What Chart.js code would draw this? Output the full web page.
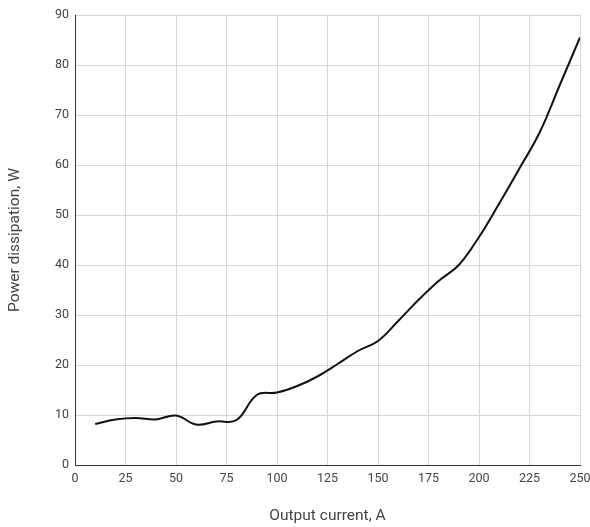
<!DOCTYPE html>
<html>
<head>
<meta charset="utf-8">
<script src="https://cdn.jsdelivr.net/npm/chart.js@4/dist/chart.umd.min.js"></script>
<style>
  html, body { margin: 0; padding: 0; background: #fff; }
  #wrap { width: 590px; height: 527px; }
</style>
</head>
<body>
<div id="wrap"><canvas id="powerChart"></canvas></div>
<script>
const currents = [10, 20, 30, 40, 50, 60, 70, 80, 90, 100, 110, 120, 130, 140, 150, 160, 170, 180, 190, 200, 210, 220, 230, 240, 250];
const power = [8.2, 9.1, 9.4, 9.1, 9.9, 8.1, 8.7, 9.0, 14.0, 14.5, 15.8, 17.7, 20.2, 22.8, 24.8, 28.8, 33.0, 36.8, 40.0, 45.6, 52.3, 59.3, 66.5, 76.0, 85.5];
const xTicks = [0, 25, 50, 75, 100, 125, 150, 175, 200, 225, 250];
const yTicks = [0, 10, 20, 30, 40, 50, 60, 70, 80, 90];

const fontFamily = 'Roboto, "Noto Sans", sans-serif';

document.addEventListener('DOMContentLoaded', () => {
    const ctx = document.getElementById('powerChart').getContext('2d');
    new Chart(ctx, {
        type: 'line',
        data: {
            datasets: [{
                data: currents.map((c, i) => ({ x: c, y: power[i] })),
                borderColor: '#111',
                borderWidth: 2,
                pointRadius: 0,
                tension: 0.4,
                fill: false
            }]
        },
        options: {
            responsive: true,
            maintainAspectRatio: false,
            animation: false,
            layout: { padding: { left: 0, right: 10, top: 15, bottom: 0 } },
            plugins: { legend: { display: false }, tooltip: { enabled: false } },
            scales: {
                x: {
                    type: 'linear',
                    min: 0, max: 250,
                    afterBuildTicks: s => { s.ticks = xTicks.map(v => ({ value: v })); },
                    afterFit: s => { s.height = 62; s.paddingRight = 0; s.paddingLeft = 0; },
                    grid: { color: '#d6d6d6', drawTicks: false },
                    border: { color: '#333', width: 1 },
                    ticks: { color: '#444', font: { family: fontFamily, size: 12.5 }, padding: 6, maxRotation: 0 },
                    title: { display: true, text: 'Output current, A', color: '#444', font: { family: fontFamily, size: 15.5 }, padding: { top: 14, bottom: 2 } }
                },
                y: {
                    min: 0, max: 90,
                    afterBuildTicks: s => { s.ticks = yTicks.map(v => ({ value: v })); },
                    afterFit: s => { s.width = 75; },
                    grid: { color: '#d6d6d6', drawTicks: false },
                    border: { color: '#333', width: 1 },
                    ticks: { color: '#444', font: { family: fontFamily, size: 12.5 }, padding: 6 },
                    title: { display: true, text: 'Power dissipation, W', color: '#444', font: { family: fontFamily, size: 15.5 }, padding: { top: 6, bottom: 0 } }
                }
            }
        }
    });
});
</script>
</body>
</html>
